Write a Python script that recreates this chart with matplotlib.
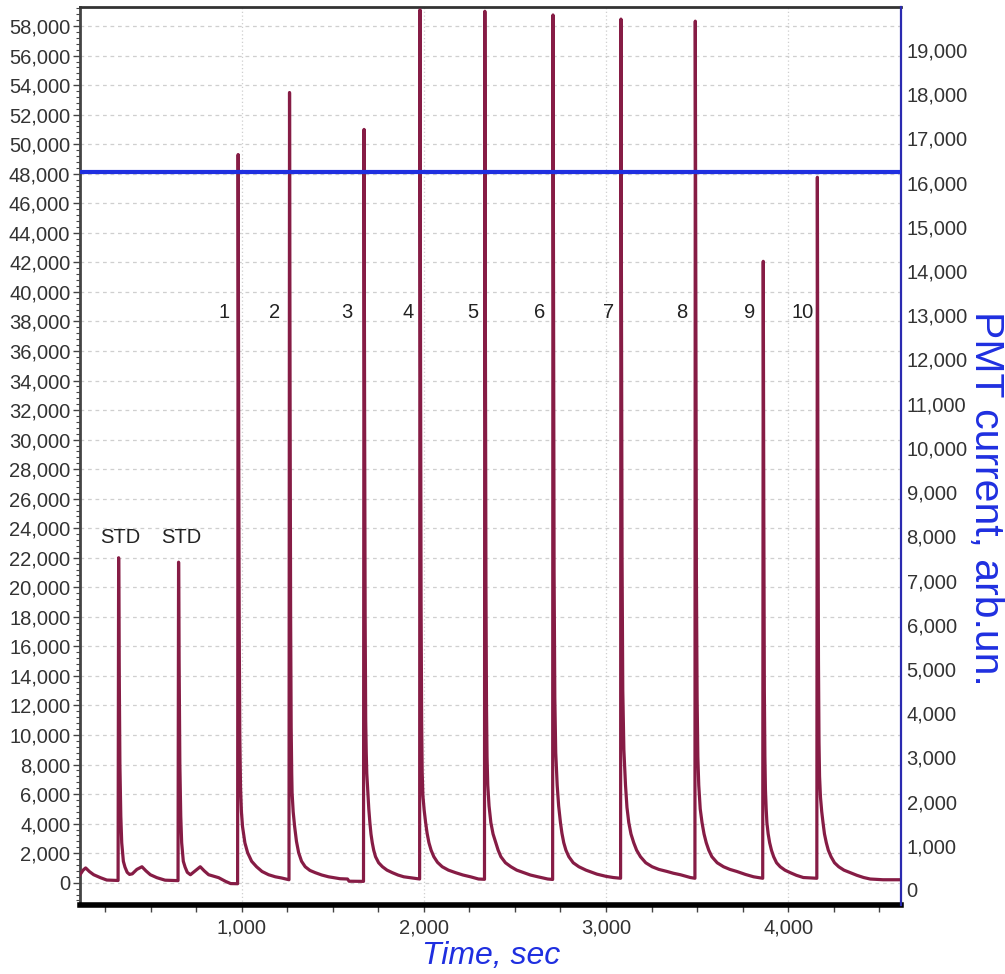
import matplotlib
matplotlib.use("Agg")
import matplotlib.pyplot as plt
from matplotlib.ticker import MultipleLocator, FuncFormatter

plt.rcParams['font.family'] = ['Liberation Sans', 'DejaVu Sans']

# ---- signal trace (time in s, signal in arb. units, left axis) ----
trace_time = [
    # start
    113, 130, 144, 165, 188, 225, 260, 318,
    # STD 1
    322, 325, 328, 332, 337, 342, 351, 360, 372, 385, 400, 425, 453, 475, 499, 535, 580, 648,
    # STD 2
    651, 654, 657, 661, 666, 671, 680, 690, 702, 719, 745, 773, 795, 819, 874, 912, 940, 975,
    # sample 1
    978, 981, 984, 987, 990, 994, 999, 1005, 1018, 1033, 1055, 1082, 1112, 1148, 1185, 1219, 1258,
    # sample 2
    1260, 1263, 1266, 1269, 1272, 1275, 1277, 1283, 1291, 1301, 1313, 1329, 1349, 1375, 1404,
    1440, 1477, 1540, 1581, 1590, 1665,
    # sample 3
    1669, 1672, 1675, 1678, 1681, 1684, 1687, 1693, 1698, 1704, 1710, 1717, 1725, 1735, 1752,
    1773, 1798, 1827, 1858, 1890, 1964, 1975,
    # sample 4
    1977, 1979, 1982, 1985, 1988, 1991, 1995, 2002, 2010, 2018, 2028, 2040, 2055, 2075, 2101,
    2135, 2174, 2215, 2256, 2300, 2330,
    # sample 5
    2333, 2335, 2338, 2341, 2344, 2347, 2351, 2358, 2368, 2380, 2395, 2408, 2423, 2448, 2478,
    2510, 2549, 2585, 2626, 2680, 2706,
    # sample 6
    2707, 2709, 2712, 2715, 2719, 2724, 2732, 2740, 2750, 2758, 2768, 2780, 2796, 2820, 2851,
    2890, 2950, 3000, 3040, 3078,
    # sample 7
    3080, 3082, 3085, 3088, 3092, 3098, 3107, 3115, 3125, 3137, 3152, 3168, 3189, 3218, 3253,
    3290, 3335, 3370, 3408, 3463, 3487,
    # sample 8
    3488, 3490, 3493, 3496, 3500, 3504, 3509, 3517, 3527, 3538, 3550, 3564, 3581, 3610, 3645,
    3680, 3718, 3765, 3810, 3858,
    # sample 9
    3860, 3863, 3866, 3869, 3872, 3875, 3879, 3883, 3890, 3898, 3908, 3920, 3936, 3956, 3982,
    4011, 4045, 4083, 4155,
    # sample 10
    4157, 4160, 4163, 4166, 4169, 4172, 4177, 4184, 4191, 4199, 4209, 4220, 4235, 4254, 4277,
    4306, 4341, 4377, 4414, 4450, 4520, 4619,
]
trace_signal = [
    540, 850, 1000, 750, 540, 340, 180, 150,
    150, 22000, 15000, 8000, 4500, 2700, 1450, 1050, 700, 560, 600, 900, 1080, 800, 540, 340, 170, 140,
    140, 21700, 15000, 8000, 4500, 2700, 1450, 1050, 700, 540, 800, 1080, 800, 540, 340, 90, -60, -70,
    -70, 49300, 30000, 17000, 10000, 6500, 4800, 3800, 2700, 2030, 1450, 1080, 760, 540, 400, 320, 200,
    200, 53500, 33000, 18000, 10500, 7400, 6100, 4800, 3800, 2800, 2030, 1450, 1080, 830, 680,
    520, 400, 270, 250, 100, 90,
    90, 51000, 32000, 18000, 11000, 8800, 7400, 6100, 5000, 4065, 3300, 2710, 2200, 1760, 1350,
    1080, 850, 680, 520, 400, 270, 250,
    250, 59100, 36000, 19000, 11000, 7500, 5900, 4900, 4065, 3350, 2710, 2200, 1760, 1380, 1080,
    850, 680, 520, 400, 250, 230,
    230, 59000, 37000, 20000, 12000, 8500, 6600, 5200, 4065, 3300, 2710, 2200, 1760, 1350, 1080,
    850, 680, 520, 400, 250, 220,
    220, 58750, 38000, 21000, 12500, 8800, 6600, 5200, 4065, 3350, 2710, 2200, 1760, 1350, 1080,
    850, 580, 430, 350, 300,
    300, 58470, 38000, 22000, 13000, 9000, 6600, 5100, 4065, 3300, 2710, 2200, 1760, 1350, 1080,
    900, 760, 640, 540, 350, 300,
    300, 58330, 38000, 21000, 12500, 8500, 6600, 5000, 4065, 3300, 2710, 2200, 1760, 1350, 1080,
    900, 760, 560, 400, 300,
    300, 42070, 25000, 13000, 8500, 6300, 5000, 4065, 3300, 2710, 2200, 1760, 1350, 1080, 850,
    680, 500, 350, 300,
    300, 47760, 28000, 15000, 9500, 7200, 5800, 4800, 4065, 3300, 2710, 2200, 1760, 1350, 1080,
    850, 680, 500, 350, 250, 200, 200,
]

# ---- peak annotations ----
peak_labels = ["STD", "STD", "1", "2", "3", "4", "5", "6", "7", "8", "9", "10"]
label_time = [332, 669, 901, 1181, 1576, 1916, 2267, 2635, 3013, 3414, 3787, 4078]
label_signal = [23400, 23400, 38600, 38600, 38600, 38600, 38600, 38600, 38600, 38600, 38600, 38600]

# ---- PMT current level (right axis) ----
pmt_level = 16230

trace_color = '#861c45'
blue = '#1f2fe0'
grey_text = '#333333'

fig = plt.figure(figsize=(10.05, 9.74), dpi=100)
ax = fig.add_axes([80 / 1005, 1 - 905 / 974, 821 / 1005, 897.7 / 974])

ax.plot(trace_time, trace_signal, color=trace_color, lw=2.3,
        solid_joinstyle='round', zorder=3)

ax.set_xlim(113, 4619)
ax.set_ylim(-1510, 59270)

thousands = FuncFormatter(lambda v, p: f"{int(round(v)):,}")
ax.yaxis.set_major_locator(MultipleLocator(2000))
ax.yaxis.set_minor_locator(MultipleLocator(400))
ax.xaxis.set_major_locator(MultipleLocator(1000))
ax.xaxis.set_minor_locator(MultipleLocator(250))
ax.yaxis.set_major_formatter(thousands)
ax.xaxis.set_major_formatter(thousands)

ax.tick_params(axis='y', which='major', length=5, width=1, color='#444444',
               labelsize=14.5, labelcolor=grey_text, pad=2)
ax.tick_params(axis='y', which='minor', length=3, width=0.8, color='#444444')
ax.tick_params(axis='x', which='major', length=5, width=1, color='#444444',
               labelsize=14.5, labelcolor=grey_text, pad=5)
ax.tick_params(axis='x', which='minor', length=5, width=1, color='#444444')

ax.grid(axis='y', which='major', color='#cfcfcf', lw=0.9, linestyle=(0, (3, 3)))
ax.grid(axis='x', which='major', color='#cfcfcf', lw=0.9, linestyle=(0, (1, 2)))

ax.spines['left'].set_color('#444444')
ax.spines['left'].set_linewidth(2)
ax.spines['top'].set_color('#333333')
ax.spines['top'].set_linewidth(2)
ax.spines['bottom'].set_color('black')
ax.spines['bottom'].set_linewidth(4)
ax.spines['right'].set_visible(False)

for lab, t, v in zip(peak_labels, label_time, label_signal):
    ax.text(t, v, lab, ha='center', va='center', fontsize=14.5, color='#222222')

ax2 = ax.twinx()
ax2.set_ylim(-340, 19966)
ax2.yaxis.set_major_locator(MultipleLocator(1000))
ax2.yaxis.set_major_formatter(thousands)
ax2.tick_params(axis='y', length=0, labelsize=14.5, labelcolor=grey_text, pad=4)
for s in ['left', 'top', 'bottom']:
    ax2.spines[s].set_visible(False)
ax2.spines['right'].set_color('#2a2ab0')
ax2.spines['right'].set_linewidth(1.6)
ax2.axhline(pmt_level, color=blue, lw=3, zorder=5)

fig.text(491 / 1005, 1 - 956 / 974, 'Time, sec', ha='center', va='center',
         fontsize=23, style='italic', color=blue)
fig.text(986 / 1005, 1 - 498 / 974, 'PMT current, arb.un.', ha='center', va='center',
         fontsize=29.5, rotation=270, color=blue)

fig.savefig('out.png', dpi=100)
